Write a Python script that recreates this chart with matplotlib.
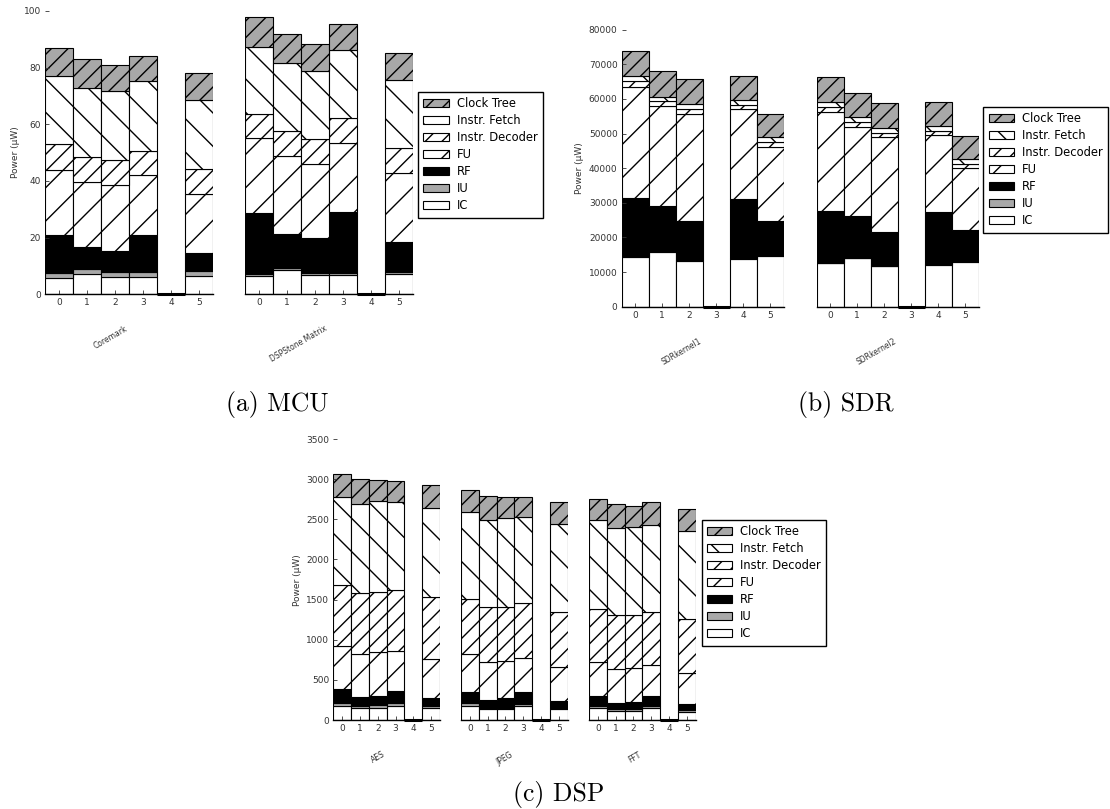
import matplotlib.pyplot as plt
from matplotlib.patches import Patch

W, H = 1110, 809

# stack order bottom -> top
components = ["IC", "IU", "RF", "FU", "Instr. Decoder", "Instr. Fetch", "Clock Tree"]
colors = ["white", "0.66", "black", "white", "white", "white", "0.66"]
hatches = ["", "", "", "/", "//", "\\", "//"]
configs = [0, 1, 2, 3, 4, 5]

# (a) MCU, uW  rows: IC, IU, RF, FU, Decoder, Fetch, Clock
coremark = [[5.9, 7.2, 6.0, 6.0, 0, 6.5],
            [1.7, 1.9, 1.9, 1.8, 0, 1.7],
            [13.2, 7.6, 7.4, 13.3, 0, 6.4],
            [23.1, 23.1, 23.2, 20.9, 0, 20.7],
            [9.0, 8.8, 8.8, 8.6, 0, 8.8],
            [24.3, 24.3, 24.5, 24.7, 0, 24.6],
            [9.9, 10.0, 9.0, 8.8, 0, 9.3]]
dspstone = [[6.5, 8.6, 6.8, 6.7, 0, 7.2],
            [0.7, 0.8, 0.8, 0.7, 0, 0.7],
            [21.6, 11.8, 12.2, 21.7, 0, 10.5],
            [26.3, 27.6, 26.2, 24.4, 0, 24.3],
            [8.4, 8.8, 8.7, 8.6, 0, 8.8],
            [23.9, 24.2, 24.1, 24.1, 0, 24.1],
            [10.4, 10.1, 9.4, 9.2, 0, 9.7]]

# (b) SDR
sdr1 = [[14350, 15930, 13330, 0, 13810, 14780],
        [150, 150, 150, 0, 150, 150],
        [16800, 13100, 11370, 0, 17050, 9920],
        [32260, 28790, 30720, 0, 26000, 21180],
        [1730, 1450, 1540, 0, 1350, 1540],
        [1450, 1250, 1440, 0, 1350, 1350],
        [7220, 7410, 7220, 0, 7030, 6650]]
sdr2 = [[12560, 14010, 11700, 0, 12180, 13050],
        [150, 150, 150, 0, 150, 150],
        [14930, 12030, 9810, 0, 14910, 8950],
        [28480, 25800, 27240, 0, 22340, 17810],
        [1640, 1250, 1350, 0, 1250, 1250],
        [1440, 1440, 1450, 0, 1440, 1440],
        [7030, 6930, 7020, 0, 6930, 6640]]

# (c) DSP
aes = [[179, 145, 145, 175, 0, 145],
       [37, 34, 38, 33, 0, 34],
       [166, 104, 120, 158, 0, 99],
       [541, 536, 541, 498, 0, 478],
       [756, 769, 752, 757, 0, 773],
       [1097, 1105, 1130, 1097, 0, 1110],
       [287, 308, 258, 254, 0, 287]]
jpeg = [[179, 133, 133, 179, 0, 137],
        [29, 21, 21, 25, 0, 17],
        [145, 95, 116, 149, 0, 83],
        [470, 470, 466, 424, 0, 424],
        [681, 686, 669, 678, 0, 686],
        [1085, 1089, 1105, 1072, 0, 1093],
        [274, 299, 262, 249, 0, 274]]
fft = [[145, 112, 112, 145, 0, 104],
       [25, 21, 21, 25, 0, 21],
       [133, 83, 91, 133, 0, 75],
       [424, 424, 424, 379, 0, 390],
       [657, 665, 657, 665, 0, 673],
       [1110, 1085, 1093, 1084, 0, 1085],
       [257, 303, 270, 279, 0, 279]]

fig = plt.figure(figsize=(W / 100, H / 100), dpi=100)


def px_axes(x0, y0, x1, y1):
    return fig.add_axes([x0 / W, 1 - y1 / H, (x1 - x0) / W, (y1 - y0) / H])


def draw_group(box, data, name, ymax, ystep, first):
    ax = px_axes(*box)
    bottom = [0] * len(configs)
    for vals, c, h in zip(data, colors, hatches):
        ax.bar(configs, vals, width=1.0, bottom=bottom, color=c,
               edgecolor="black", hatch=h, linewidth=0.8)
        bottom = [b + v for b, v in zip(bottom, vals)]
    # empty configuration shows up as a thick line on the baseline
    empty = [i for i in configs if bottom[i] == 0]
    ax.hlines([0] * len(empty), [i - 0.5 for i in empty], [i + 0.5 for i in empty],
              colors="black", linewidth=2.2, zorder=3, clip_on=False)
    ax.set_xlim(-0.5, 5.5)
    ax.set_ylim(0, ymax)
    for s in ["top", "right", "left"]:
        ax.spines[s].set_visible(False)
    ax.spines["bottom"].set_linewidth(1.0)
    ax.set_xticks(configs)
    ax.tick_params(direction="in", length=3, labelsize=6.5, pad=3,
                   colors="0.2", width=0.6)
    if first:
        ax.set_yticks(list(range(0, ymax + 1, ystep)))
    else:
        ax.set_yticks([])
    cx = (box[0] + box[2]) / 2
    fig.text(cx / W, 1 - (box[3] + 30) / H, name, rotation=30,
             ha="right", va="top", fontsize=5.5, color="0.2")
    return ax


def add_legend(x, y0, loc="upper left"):
    handles = [Patch(facecolor=c, edgecolor="black", hatch=h, linewidth=0.8, label=n)
               for n, c, h in zip(components, colors, hatches)][::-1]
    leg = fig.legend(handles=handles, loc=loc,
                     bbox_to_anchor=(x / W, 1 - y0 / H), borderaxespad=0,
                     fontsize=8.3, fancybox=False, framealpha=1,
                     labelspacing=0.35, handlelength=2.2, handletextpad=0.7,
                     borderpad=0.45)
    leg.get_frame().set_edgecolor("black")
    leg.get_frame().set_linewidth(1.0)


def ylabel(x, y):
    fig.text(x / W, 1 - y / H, "Power (\u00b5W)", rotation=90,
             ha="center", va="center", fontsize=6.5, color="0.2")


# (a) MCU
draw_group((45, 11, 213, 294.3), coremark, "Coremark", 100, 20, True)
draw_group((245, 11, 413, 294.3), dspstone, "DSPStone Matrix", 100, 20, False)
add_legend(418, 92)
ylabel(15, 152)
fig.text(277 / W, 1 - 405 / H, "(a) MCU", family="cmr10", fontsize=18.5,
         ha="center", va="center")

# (b) SDR
draw_group((621.7, 29.7, 784, 306.7), sdr1, "SDRkernel1", 80000, 10000, True)
draw_group((816.7, 29.7, 979, 306.7), sdr2, "SDRkernel2", 80000, 10000, False)
add_legend(1108, 107, loc="upper right")
ylabel(580, 168)
fig.text(846 / W, 1 - 405 / H, "(b) SDR", family="cmr10", fontsize=18.5,
         ha="center", va="center")

# (c) DSP
draw_group((333.3, 439, 440, 720), aes, "AES", 3500, 500, True)
draw_group((461, 439, 567.7, 720), jpeg, "JPEG", 3500, 500, False)
draw_group((589, 439, 695.7, 720), fft, "FFT", 3500, 500, False)
add_legend(701.7, 520)
ylabel(297, 580)
fig.text(559 / W, 1 - 795 / H, "(c) DSP", family="cmr10", fontsize=18.5,
         ha="center", va="center")

fig.savefig("out.png", dpi=100)
